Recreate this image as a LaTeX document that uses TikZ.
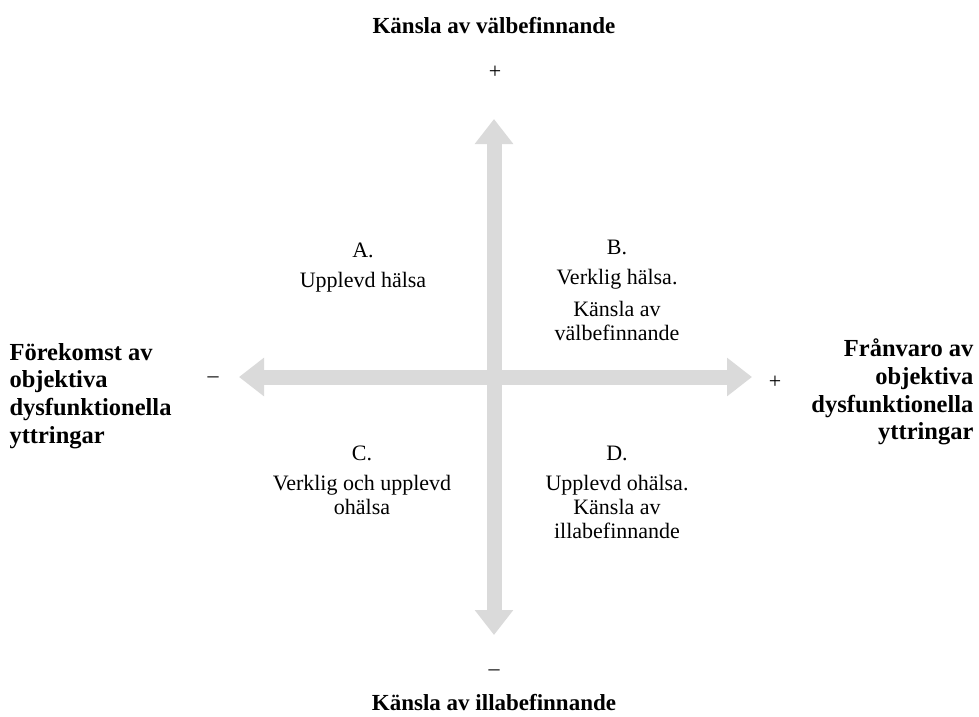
\documentclass[tikz,border=0pt]{standalone}
\usepackage{fontspec}
\setmainfont{Liberation Serif}
\usetikzlibrary{arrows.meta}
\definecolor{axisgray}{HTML}{DADADA}
\begin{document}
\begin{tikzpicture}[x=1pt, y=-1pt,
    axis/.style={line width=15pt, draw=axisgray,
        {Triangle[width=37pt,length=25pt]}-{Triangle[width=37pt,length=25pt]}},
    quad/.style={align=center, font=\fontsize{22}{24}\selectfont},
    heading/.style={font=\fontsize{23}{28}\selectfont\bfseries},
    sidehead/.style={font=\fontsize{24.5}{27.7}\selectfont\bfseries},
    sign/.style={font=\fontsize{22}{24}\selectfont}]
    \useasboundingbox (0,0) rectangle (979,716);

    % axes
    \coordinate (top) at (494,119);
    \coordinate (bottom) at (494,635);
    \coordinate (left) at (239,377);
    \coordinate (right) at (752,377);
    \draw[axis] (bottom) -- (top);
    \draw[axis] (left) -- (right);

    % signs at the arrow ends
    \node[sign] (plustop) at (495,72) {+};
    \node[sign] (minusbottom) at (494,673) {–};
    \node[sign] (minusleft) at (213,380) {–};
    \node[sign] (plusright) at (775,382) {+};

    % axis headings
    \node[heading] (wellbeing) at (494,26) {Känsla av välbefinnande};
    \node[heading] (illbeing) at (494,702) {Känsla av illabefinnande};
    \node[sidehead, align=left, anchor=west] (presence) at (6,396)
        {Förekomst av\\objektiva\\dysfunktionella\\yttringar};
    \node[sidehead, align=right, anchor=east] (absence) at (977,392)
        {Frånvaro av\\objektiva\\dysfunktionella\\yttringar};

    % quadrants
    \node[quad] (qa) at (363,268) {A.\\[6pt]Upplevd hälsa};
    \node[quad] (qb) at (617,290) {B.\\[6pt]Verklig hälsa.\\[8pt]Känsla av\\välbefinnande};
    \node[quad] (qc) at (362,480) {C.\\[6pt]Verklig och upplevd\\ohälsa};
    \node[quad] (qd) at (617,492) {D.\\[6pt]Upplevd ohälsa.\\Känsla av\\illabefinnande};
\end{tikzpicture}
\end{document}
